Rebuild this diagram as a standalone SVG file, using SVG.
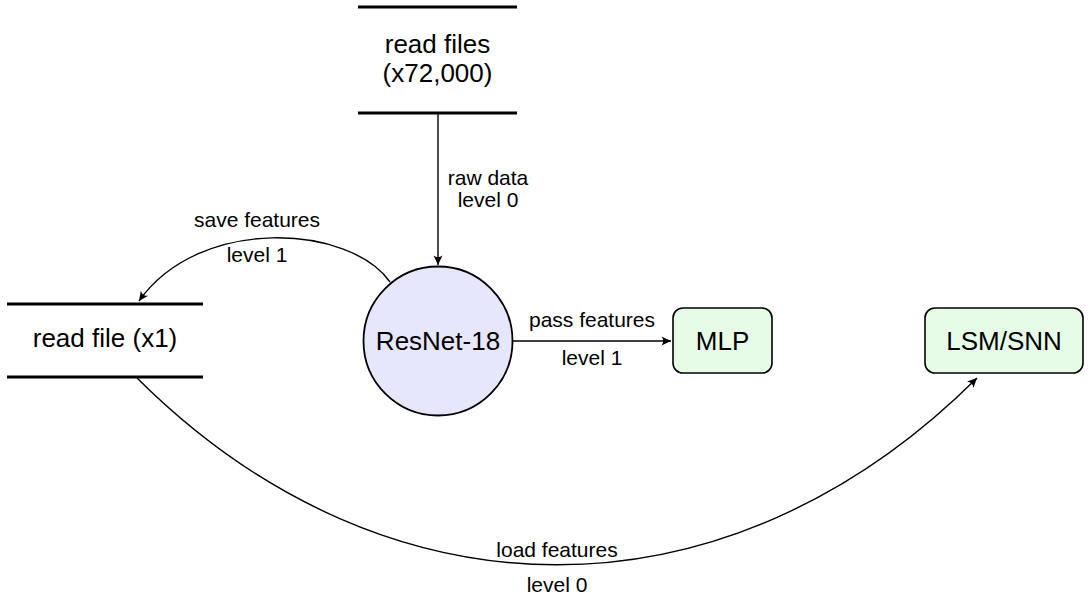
<svg xmlns="http://www.w3.org/2000/svg" width="1090" height="597" viewBox="0 0 1090 597">
<style>
text{font-family:"Liberation Sans",Arial,Helvetica,sans-serif;fill:#000;text-anchor:middle}
.n{font-size:26px}
.l{font-size:21px}
.store{stroke:#000;stroke-width:3;fill:none}
.edge{stroke:#000;stroke-width:1.4;fill:none;marker-end:url(#arr)}
</style>
<defs>
<marker id="arr" viewBox="-10 -6 12 12" refX="0" refY="0" markerWidth="12" markerHeight="12" markerUnits="userSpaceOnUse" orient="auto">
<path d="M0,0 L-9.5,-4.5 Q-6,0 -9.5,4.5 Z" fill="#000"/>
</marker>
</defs>
<rect width="1090" height="597" fill="#fff"/>
<g id="connectors">
<path class="edge" d="M438,113 L438,265"/>
<path class="edge" d="M390,282 C350,225 200,215 139,301"/>
<path class="edge" d="M513,341 L671,341"/>
<path class="edge" d="M137,378 C387,627 727,627 977,378"/>
<text class="l" x="488" y="185">raw data</text>
<text class="l" x="488" y="207">level 0</text>
<text class="l" x="257" y="227">save features</text>
<text class="l" x="257" y="262">level 1</text>
<text class="l" x="592" y="327">pass features</text>
<text class="l" x="592" y="365">level 1</text>
<text class="l" x="557" y="557">load features</text>
<text class="l" x="557" y="592">level 0</text>
</g>
<g id="readfiles">
<line class="store" x1="358" y1="7" x2="517" y2="7"/>
<line class="store" x1="358" y1="113" x2="517" y2="113"/>
<text class="n" x="437.5" y="53">read files</text>
<text class="n" x="437.5" y="82">(x72,000)</text>
</g>
<g id="readfile">
<line class="store" x1="7" y1="304" x2="203" y2="304"/>
<line class="store" x1="7" y1="377" x2="203" y2="377"/>
<text class="n" x="105" y="347">read file (x1)</text>
</g>
<g id="resnet">
<circle cx="438" cy="341" r="74.5" fill="#e6e6fd" stroke="#000" stroke-width="1.8"/>
<text class="n" x="438" y="350">ResNet-18</text>
</g>
<g id="mlp">
<rect x="673" y="308" width="99" height="65" rx="10" fill="#e6fce6" stroke="#000" stroke-width="1.6"/>
<text class="n" x="722.5" y="350">MLP</text>
</g>
<g id="lsm">
<rect x="925" y="308" width="158" height="65" rx="10" fill="#e6fce6" stroke="#000" stroke-width="1.6"/>
<text class="n" x="1004" y="350">LSM/SNN</text>
</g>
</svg>
